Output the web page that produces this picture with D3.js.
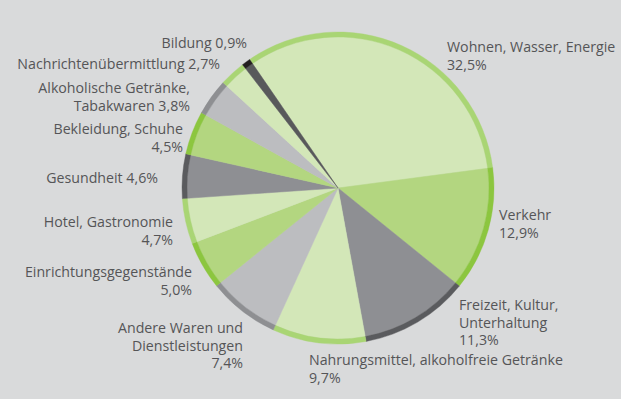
<!DOCTYPE html>
<html>
<head>
<meta charset="utf-8">
<script src="https://cdn.jsdelivr.net/npm/d3@7"></script>
<style>
  html, body { margin: 0; padding: 0; background: #d9dadb; }
  svg { display: block; }
  text { font-family: "Open Sans", "DejaVu Sans", sans-serif; fill: #555557; }
</style>
</head>
<body>
<script>
// ---- data ----
const categories = [
  "Wohnen, Wasser, Energie",
  "Verkehr",
  "Freizeit, Kultur, Unterhaltung",
  "Nahrungsmittel, alkoholfreie Getränke",
  "Andere Waren und Dienstleistungen",
  "Einrichtungsgegenstände",
  "Hotel, Gastronomie",
  "Gesundheit",
  "Bekleidung, Schuhe",
  "Alkoholische Getränke, Tabakwaren",
  "Nachrichtenübermittlung",
  "Bildung"
];
const values = [32.5, 12.9, 11.3, 9.7, 7.4, 5.0, 4.7, 4.6, 4.5, 3.8, 2.7, 0.9];
// label text lines (name part); percent appended inline or on own line
const labelLines = [
  ["Wohnen, Wasser, Energie"],
  ["Verkehr"],
  ["Freizeit, Kultur,", "Unterhaltung"],
  ["Nahrungsmittel, alkoholfreie Getränke"],
  ["Andere Waren und", "Dienstleistungen"],
  ["Einrichtungsgegenstände"],
  ["Hotel, Gastronomie"],
  ["Gesundheit"],
  ["Bekleidung, Schuhe"],
  ["Alkoholische Getränke,", "Tabakwaren"],
  ["Nachrichtenübermittlung"],
  ["Bildung"]
];
const pctInline = [false, false, false, false, false, false, false, true, false, true, true, true];

// ---- styles / layout (kept separate from data) ----
const fillColors = ["#d3e7b8", "#b3d680", "#8e8f93", "#d3e7b8", "#bcbdc0", "#b3d680",
                    "#d3e7b8", "#8e8f93", "#b3d680", "#bcbdc0", "#d3e7b8", "#58595b"];
const rimColors  = ["#a9d574", "#8cc63f", "#5a5b5e", "#a9d574", "#8e8f92", "#8cc63f",
                    "#a9d574", "#5a5b5e", "#8cc63f", "#8e8f92", "#a9d574", "#231f20"];
const labelLayout = [
  {x: 447, y: 52, anchor: "start"},
  {x: 499, y: 220, anchor: "start"},
  {x: 459, y: 310, anchor: "start"},
  {x: 309, y: 365, anchor: "start"},
  {x: 243, y: 333, anchor: "end"},
  {x: 192, y: 277, anchor: "end"},
  {x: 173, y: 227, anchor: "end"},
  {x: 158, y: 183, anchor: "end"},
  {x: 183, y: 134, anchor: "end"},
  {x: 190, y: 93, anchor: "end"},
  {x: 220, y: 69, anchor: "end"},
  {x: 247, y: 48, anchor: "end"}
];

const W = 621, H = 399;
const cx = 338, cy = 188, R = 156, rim = 5;
const lineH = 17.5;
const fontSize = 14.2;

const fmt = v => d3.format(".1f")(v).replace(".", ",") + "%";

const svg = d3.select("body").append("svg").attr("width", W).attr("height", H);
svg.append("rect").attr("width", W).attr("height", H).attr("fill", "#d9dadb");

const startA = -34.5 * Math.PI / 180;
const pie = d3.pie().sort(null).value(d => d)
  .startAngle(startA).endAngle(startA + 2 * Math.PI);
const arcs = pie(values);

const g = svg.append("g").attr("transform", `translate(${cx},${cy})`);
const arcFill = d3.arc().innerRadius(0).outerRadius(R - rim);
const arcRim = d3.arc().innerRadius(R - rim).outerRadius(R);

g.selectAll("path.fill").data(arcs).join("path")
  .attr("class", "fill")
  .attr("d", arcFill)
  .attr("fill", (d, i) => fillColors[i])
  .attr("stroke", (d, i) => fillColors[i])
  .attr("stroke-width", 0.5);
g.selectAll("path.rim").data(arcs).join("path")
  .attr("class", "rim")
  .attr("d", arcRim)
  .attr("fill", (d, i) => rimColors[i])
  .attr("stroke", (d, i) => rimColors[i])
  .attr("stroke-width", 0.4);

// labels
const labels = svg.append("g");
categories.forEach((c, i) => {
  const lines = labelLines[i].slice();
  if (pctInline[i]) lines[lines.length - 1] += " " + fmt(values[i]);
  else lines.push(fmt(values[i]));
  const L = labelLayout[i];
  const t = labels.append("text")
    .attr("x", L.x).attr("y", L.y)
    .attr("text-anchor", L.anchor)
    .attr("font-size", fontSize);
  lines.forEach((ln, k) => {
    t.append("tspan").attr("x", L.x).attr("y", L.y + k * lineH).text(ln);
  });
});
</script>
</body>
</html>
